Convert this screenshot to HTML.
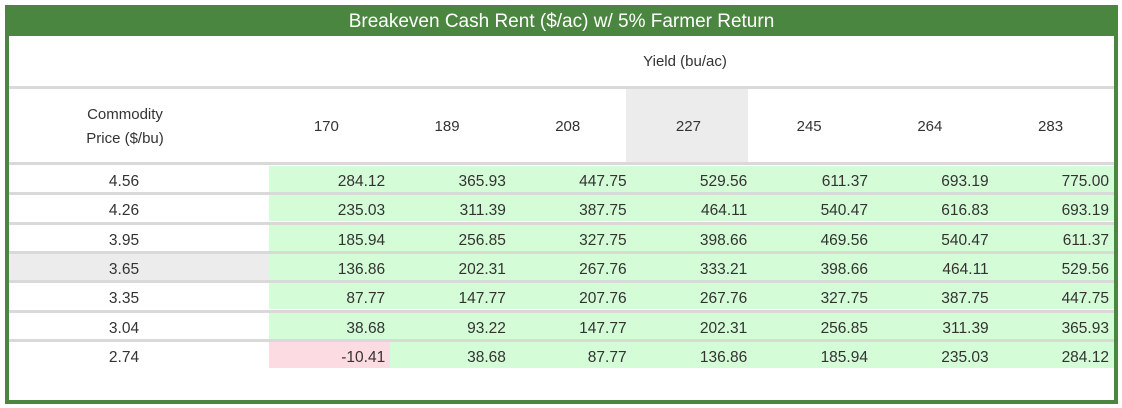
<!DOCTYPE html>
<html><head><style>
body{margin:0;width:1122px;height:408px;background:#fff;position:relative;font-family:"Liberation Sans",sans-serif;color:#333;overflow:hidden}
.box{position:absolute;left:5px;top:5px;width:1113px;height:399px;background:#4b8640}
.inner{position:absolute;left:9px;top:36px;width:1105px;height:364px;background:#fff}
.title{position:absolute;left:5px;top:5px;width:1113px;height:31px;line-height:33px;text-align:center;color:#fff;font-size:19px}
.t{position:absolute;font-size:15px;text-align:center}
.sep{position:absolute;left:9px;width:1105px;height:3px;background:#d9d9d9}
.c{position:absolute;height:26px;line-height:31px;font-size:15.5px;text-align:right;box-sizing:border-box;padding-right:5px}
</style></head><body>
<div class="box"></div><div class="inner"></div>
<div class="title">Breakeven Cash Rent ($/ac) w/ 5% Farmer Return</div>
<div style="position:absolute;left:626px;top:89px;width:122px;height:73px;background:#ececec"></div>
<div class="t" style="left:560px;width:250px;top:53px">Yield (bu/ac)</div>
<div class="sep" style="top:86px"></div>
<div class="t" style="left:60px;width:130px;top:103px;line-height:24px">Commodity<br>Price ($/bu)</div>
<div id="h"></div>
<div class="sep" style="top:162px"></div>
<div id="rows"></div>
<script>
var cols=[170,189,208,227,245,264,283],x0=269,w=120.7;
var h='';cols.forEach(function(c,i){h+='<div class="t" style="left:'+(x0+i*w-3)+'px;width:'+w+'px;top:118px">'+c+'</div>'});
document.getElementById('h').innerHTML=h;
var P=['4.56','4.26','3.95','3.65','3.35','3.04','2.74'];
var D=[[284.12,365.93,447.75,529.56,611.37,693.19,775.00],[235.03,311.39,387.75,464.11,540.47,616.83,693.19],[185.94,256.85,327.75,398.66,469.56,540.47,611.37],[136.86,202.31,267.76,333.21,398.66,464.11,529.56],[87.77,147.77,207.76,267.76,327.75,387.75,447.75],[38.68,93.22,147.77,202.31,256.85,311.39,365.93],[-10.41,38.68,87.77,136.86,185.94,235.03,284.12]];
var r='';P.forEach(function(p,j){var y=166+j*29.3;
if(j>0)r+='<div class="sep" style="top:'+(y-3)+'px"></div>';
r+='<div class="c" style="left:9px;width:260px;top:'+y+'px;text-align:center;padding:0 30px 0 0;'+(j==3?'background:#ececec':'')+'">'+p+'</div>';
D[j].forEach(function(v,i){var bg=v<0?'#fcdbe2':'#d4fcd6';r+='<div class="c" style="left:'+(x0+i*w)+'px;width:'+(i==6?1114-x0-i*w:w+0.5)+'px;top:'+y+'px;background:'+bg+'">'+v.toFixed(2)+'</div>'});});
document.getElementById('rows').innerHTML=r;
</script>
</body></html>
